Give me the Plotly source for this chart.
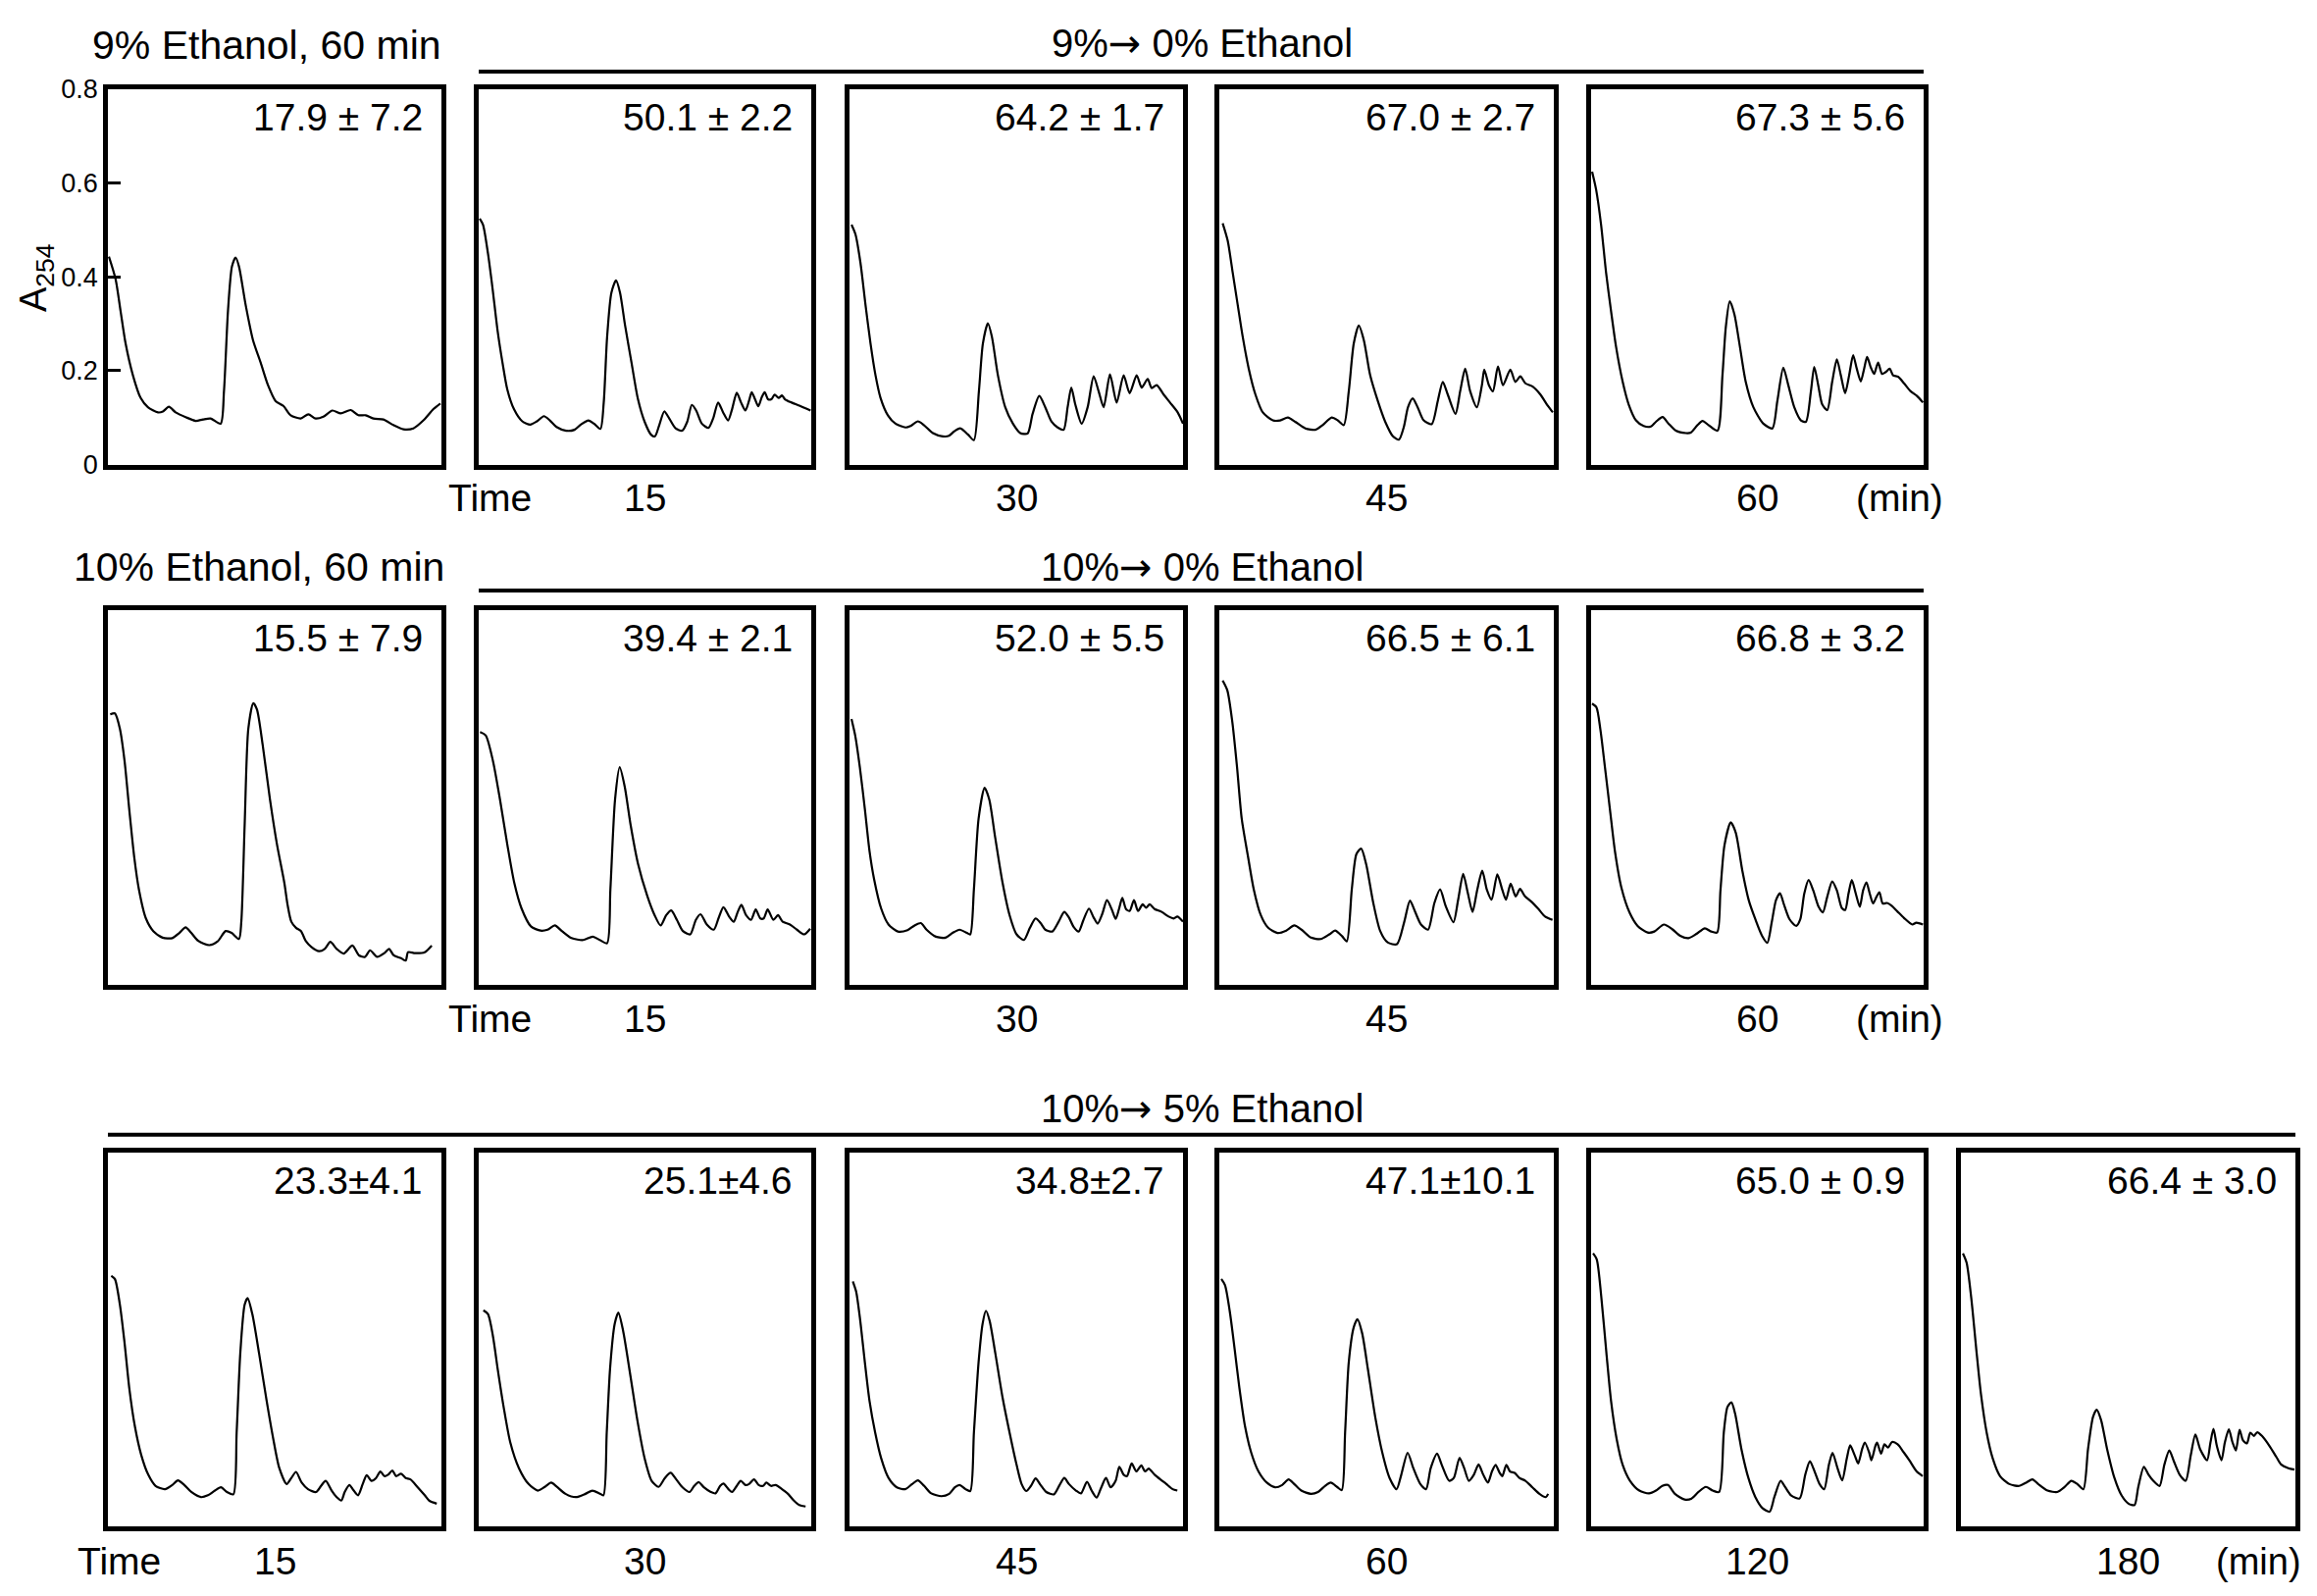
import plotly.graph_objects as go

# polysome profiles: position along the gradient (% of profile width) and A254
# --- 9% ethanol, 60 min ---
pos_e9_60min = [0.3, 2.3, 3.8, 5.3, 7.5, 9.8, 12.0, 15.0, 16.5, 18.3, 20.3, 23.3, 26.3, 28.5, 30.8,
                33.8, 34.8, 36.0, 37.2, 38.3, 39.3, 41.3, 43.5, 45.8, 48.0, 50.3, 52.6, 54.8, 57.8,
                60.1, 62.3, 64.6, 67.3, 69.8, 72.8, 75.1, 77.3, 79.6, 82.6, 85.6, 88.6, 91.6, 94.6,
                97.6, 99.7]
abs_e9_60min = [0.443, 0.395, 0.327, 0.258, 0.190, 0.142, 0.122, 0.111, 0.113, 0.123, 0.111, 0.101,
                0.093, 0.096, 0.098, 0.087, 0.156, 0.327, 0.422, 0.441, 0.422, 0.340, 0.265, 0.217,
                0.169, 0.135, 0.125, 0.105, 0.098, 0.107, 0.098, 0.102, 0.115, 0.109, 0.116, 0.105,
                0.105, 0.098, 0.096, 0.084, 0.075, 0.077, 0.094, 0.118, 0.130]

# --- 9% -> 0% ethanol ---
pos_e9to0_15 = [0.3, 1.3, 2.8, 4.2, 5.7, 7.2, 8.6, 10.6, 13.1, 15.5, 17.5, 19.6, 21.4, 23.4, 26.3,
                28.8, 30.7, 33.0, 34.7, 36.6, 37.6, 38.6, 39.9, 41.3, 42.5, 44.0, 46.0, 47.9, 49.9,
                51.9, 53.0, 54.3, 55.8, 57.3, 59.2, 61.2, 62.7, 64.1, 65.4, 67.1, 69.1, 70.5, 72.0,
                73.5, 75.0, 76.2, 77.6, 78.9, 80.2, 81.3, 82.1, 83.1, 84.1, 85.1, 86.0, 87.0, 88.0,
                89.0, 90.2, 91.2, 92.1, 94.1, 96.6, 99.8]
abs_e9to0_15 = [0.524, 0.511, 0.449, 0.373, 0.284, 0.215, 0.160, 0.118, 0.092, 0.085, 0.092, 0.103,
                0.094, 0.080, 0.072, 0.074, 0.085, 0.094, 0.087, 0.076, 0.132, 0.270, 0.366, 0.392,
                0.366, 0.297, 0.215, 0.139, 0.091, 0.063, 0.060, 0.084, 0.113, 0.098, 0.077, 0.072,
                0.091, 0.127, 0.115, 0.087, 0.078, 0.098, 0.132, 0.111, 0.094, 0.118, 0.153, 0.132,
                0.115, 0.136, 0.154, 0.139, 0.124, 0.143, 0.154, 0.139, 0.139, 0.149, 0.142, 0.147,
                0.139, 0.132, 0.125, 0.115]

pos_e9to0_30 = [0.6, 1.8, 3.3, 4.8, 6.3, 7.8, 9.3, 11.5, 13.8, 16.8, 18.3, 20.5, 22.3, 25.0, 28.0,
                29.8, 31.3, 33.2, 35.5, 37.3, 38.8, 40.0, 41.5, 42.7, 44.5, 46.7, 49.0, 51.2, 53.4,
                54.9, 56.9, 58.7, 60.6, 62.4, 64.2, 65.4, 66.5, 67.7, 69.6, 71.4, 73.2, 74.7, 76.2,
                78.1, 80.1, 82.2, 84.0, 86.1, 87.6, 89.4, 90.6, 92.1, 94.2, 96.1, 98.4, 100.0]
abs_e9to0_30 = [0.511, 0.490, 0.429, 0.340, 0.258, 0.190, 0.142, 0.105, 0.087, 0.079, 0.082, 0.092,
                0.084, 0.067, 0.060, 0.061, 0.070, 0.077, 0.064, 0.052, 0.156, 0.258, 0.301, 0.272,
                0.190, 0.122, 0.087, 0.067, 0.066, 0.108, 0.146, 0.122, 0.091, 0.079, 0.074, 0.122,
                0.164, 0.128, 0.087, 0.122, 0.188, 0.156, 0.122, 0.192, 0.132, 0.190, 0.152, 0.190,
                0.164, 0.182, 0.163, 0.169, 0.149, 0.132, 0.111, 0.087]

pos_e9to0_45 = [1.0, 2.5, 4.0, 5.5, 7.0, 8.8, 10.8, 13.0, 16.0, 18.2, 20.5, 22.7, 25.7, 28.7, 30.9,
                33.6, 35.4, 37.2, 38.7, 40.2, 41.7, 43.2, 45.1, 47.4, 49.6, 51.9, 53.7, 55.2, 56.4,
                57.8, 59.3, 61.1, 63.5, 65.3, 66.8, 68.3, 70.6, 72.0, 73.5, 75.0, 77.0, 78.5, 79.2,
                80.6, 81.8, 83.3, 84.8, 87.0, 88.5, 90.0, 91.5, 93.7, 96.0, 98.2, 99.7]
abs_e9to0_45 = [0.514, 0.477, 0.409, 0.340, 0.272, 0.204, 0.149, 0.111, 0.094, 0.094, 0.100, 0.091,
                0.077, 0.074, 0.084, 0.100, 0.094, 0.084, 0.156, 0.258, 0.296, 0.265, 0.190, 0.135,
                0.091, 0.060, 0.053, 0.081, 0.122, 0.141, 0.122, 0.094, 0.086, 0.135, 0.176, 0.149,
                0.108, 0.156, 0.204, 0.156, 0.122, 0.169, 0.202, 0.169, 0.156, 0.209, 0.169, 0.202,
                0.176, 0.188, 0.173, 0.166, 0.149, 0.125, 0.111]

pos_e9to0_60 = [0.3, 1.5, 3.0, 4.5, 6.0, 7.5, 9.5, 11.3, 13.5, 15.8, 18.0, 19.5, 21.5, 23.3, 25.5,
                28.5, 30.0, 32.0, 33.5, 35.3, 38.0, 39.5, 40.5, 41.7, 43.1, 44.6, 46.5, 48.8, 51.8,
                54.5, 56.0, 57.8, 59.3, 61.1, 63.1, 64.6, 66.1, 67.1, 68.3, 69.5, 71.0, 72.5, 73.9,
                75.1, 76.4, 77.6, 78.8, 79.9, 81.1, 82.1, 83.0, 84.1, 85.1, 86.3, 87.5, 88.6, 89.8,
                90.8, 92.3, 94.1, 96.1, 98.0, 99.8]
abs_e9to0_60 = [0.624, 0.586, 0.511, 0.409, 0.327, 0.251, 0.176, 0.128, 0.094, 0.082, 0.081, 0.091,
                0.101, 0.087, 0.072, 0.067, 0.068, 0.084, 0.093, 0.084, 0.072, 0.190, 0.292, 0.348,
                0.320, 0.258, 0.176, 0.122, 0.087, 0.077, 0.135, 0.206, 0.169, 0.122, 0.094, 0.091,
                0.156, 0.208, 0.169, 0.128, 0.116, 0.176, 0.224, 0.190, 0.152, 0.190, 0.233, 0.204,
                0.177, 0.204, 0.229, 0.207, 0.193, 0.217, 0.193, 0.197, 0.204, 0.190, 0.187, 0.173,
                0.156, 0.146, 0.132]

# --- 10% ethanol, 60 min ---
pos_e10_60min = [0.7, 2.1, 3.6, 5.0, 6.4, 7.9, 9.3, 11.4, 13.6, 16.4, 19.3, 21.4, 23.3, 25.0, 27.1,
                 30.4, 32.9, 35.3, 37.1, 39.3, 40.0, 41.0, 42.1, 43.6, 44.7, 46.4, 48.6, 50.7, 52.9,
                 53.9, 55.0, 56.4, 57.9, 59.3, 61.0, 63.3, 65.0, 66.7, 68.6, 70.7, 73.3, 75.3, 77.1,
                 78.6, 80.7, 82.9, 84.3, 85.7, 87.9, 89.3, 90.0, 92.1, 95.0, 97.1]
abs_e10_60min = [0.577, 0.579, 0.546, 0.477, 0.374, 0.272, 0.203, 0.141, 0.114, 0.100, 0.099, 0.110,
                 0.122, 0.110, 0.093, 0.084, 0.092, 0.114, 0.110, 0.097, 0.134, 0.340, 0.546, 0.601,
                 0.587, 0.512, 0.395, 0.299, 0.217, 0.169, 0.134, 0.121, 0.114, 0.093, 0.080, 0.071,
                 0.076, 0.091, 0.076, 0.066, 0.083, 0.062, 0.059, 0.073, 0.059, 0.067, 0.076, 0.062,
                 0.056, 0.051, 0.069, 0.067, 0.069, 0.083]

# --- 10% -> 0% ethanol ---
pos_e10to0_15 = [0.4, 2.1, 4.3, 6.4, 8.6, 10.7, 12.9, 15.7, 18.6, 20.7, 22.9, 25.0, 27.9, 31.4, 34.3,
                 36.4, 38.6, 39.6, 41.0, 42.4, 43.9, 45.7, 47.9, 50.7, 52.9, 54.7, 56.4, 57.9, 59.6,
                 61.4, 63.6, 65.3, 66.7, 68.6, 70.7, 72.1, 73.6, 75.3, 76.7, 77.9, 79.0, 80.4, 81.9,
                 83.3, 84.7, 85.7, 86.9, 88.6, 90.0, 91.4, 93.6, 95.7, 97.9, 99.7]
abs_e10to0_15 = [0.539, 0.532, 0.477, 0.395, 0.299, 0.217, 0.162, 0.124, 0.115, 0.117, 0.126, 0.114,
                 0.099, 0.095, 0.102, 0.095, 0.088, 0.203, 0.395, 0.464, 0.423, 0.340, 0.258, 0.189,
                 0.148, 0.126, 0.148, 0.158, 0.138, 0.114, 0.107, 0.138, 0.150, 0.128, 0.117, 0.141,
                 0.165, 0.145, 0.134, 0.155, 0.170, 0.148, 0.138, 0.160, 0.141, 0.141, 0.160, 0.138,
                 0.148, 0.134, 0.128, 0.117, 0.107, 0.119]

pos_e10to0_30 = [0.6, 1.7, 3.1, 4.6, 6.0, 7.4, 9.5, 11.7, 14.5, 17.4, 19.5, 21.4, 23.1, 25.9, 28.8,
                 30.9, 33.0, 35.2, 36.2, 37.3, 38.7, 40.5, 41.9, 43.7, 45.9, 48.0, 50.1, 52.3, 54.1,
                 55.8, 57.3, 58.7, 60.8, 62.7, 64.4, 65.8, 67.2, 68.7, 70.1, 71.8, 73.2, 74.4, 75.8,
                 77.2, 78.6, 79.8, 80.8, 81.8, 82.9, 84.0, 85.3, 86.5, 87.9, 88.9, 90.0, 91.5, 93.6,
                 95.7, 97.2, 98.3, 100.0]
abs_e10to0_30 = [0.567, 0.532, 0.464, 0.375, 0.285, 0.224, 0.162, 0.128, 0.113, 0.116, 0.126, 0.131,
                 0.117, 0.102, 0.100, 0.110, 0.117, 0.110, 0.107, 0.203, 0.354, 0.420, 0.395, 0.313,
                 0.217, 0.148, 0.107, 0.095, 0.121, 0.141, 0.131, 0.117, 0.113, 0.134, 0.155, 0.143,
                 0.123, 0.113, 0.137, 0.162, 0.143, 0.130, 0.151, 0.180, 0.161, 0.140, 0.161, 0.185,
                 0.161, 0.157, 0.180, 0.157, 0.171, 0.164, 0.171, 0.161, 0.155, 0.145, 0.141, 0.145,
                 0.134]

pos_e10to0_45 = [1.0, 2.4, 3.9, 5.3, 6.7, 8.6, 10.3, 12.4, 14.6, 17.4, 20.0, 22.4, 24.6, 27.4, 30.3,
                 32.9, 34.6, 36.7, 38.1, 39.6, 41.0, 42.4, 43.9, 46.0, 48.1, 50.3, 53.1, 55.3, 57.0,
                 58.6, 60.3, 62.4, 64.3, 66.0, 67.7, 70.0, 71.4, 72.9, 74.3, 75.7, 77.1, 78.6, 80.0,
                 81.4, 83.1, 84.6, 85.7, 87.1, 88.6, 89.9, 91.4, 93.1, 95.3, 97.4, 99.6]
abs_e10to0_45 = [0.649, 0.628, 0.560, 0.464, 0.354, 0.272, 0.203, 0.148, 0.121, 0.110, 0.115, 0.126,
                 0.117, 0.100, 0.097, 0.107, 0.115, 0.103, 0.092, 0.203, 0.279, 0.290, 0.257, 0.175,
                 0.114, 0.090, 0.086, 0.134, 0.179, 0.154, 0.128, 0.117, 0.174, 0.203, 0.167, 0.133,
                 0.181, 0.236, 0.195, 0.155, 0.202, 0.243, 0.202, 0.181, 0.235, 0.202, 0.181, 0.215,
                 0.188, 0.204, 0.188, 0.178, 0.162, 0.145, 0.138]

pos_e10to0_60 = [0.3, 1.6, 2.8, 4.2, 5.7, 7.2, 9.1, 11.6, 14.0, 17.0, 19.0, 21.9, 24.4, 26.8, 29.3,
                 31.7, 34.2, 36.1, 37.9, 38.9, 40.1, 42.0, 43.5, 45.5, 47.4, 49.4, 51.4, 53.0, 54.3,
                 55.6, 56.8, 57.9, 59.7, 61.7, 62.9, 64.1, 65.4, 66.8, 68.4, 69.7, 71.0, 72.5, 73.9,
                 75.4, 76.4, 77.4, 78.4, 79.6, 80.8, 81.8, 82.8, 83.8, 84.8, 85.8, 86.7, 87.7, 89.0,
                 90.4, 92.1, 94.1, 96.6, 97.8, 99.8]
abs_e10to0_60 = [0.600, 0.592, 0.544, 0.462, 0.372, 0.283, 0.207, 0.153, 0.125, 0.111, 0.113, 0.128,
                 0.118, 0.104, 0.099, 0.108, 0.120, 0.113, 0.111, 0.201, 0.297, 0.346, 0.324, 0.242,
                 0.180, 0.139, 0.104, 0.089, 0.132, 0.180, 0.195, 0.173, 0.139, 0.125, 0.139, 0.194,
                 0.223, 0.201, 0.166, 0.154, 0.187, 0.220, 0.201, 0.163, 0.159, 0.194, 0.223, 0.194,
                 0.166, 0.201, 0.218, 0.194, 0.173, 0.187, 0.197, 0.173, 0.174, 0.168, 0.156, 0.142,
                 0.128, 0.132, 0.128]

# --- 10% -> 5% ethanol ---
pos_e10to5_15 = [1.0, 2.1, 3.6, 5.0, 6.4, 8.1, 10.0, 12.1, 14.3, 17.1, 19.3, 21.0, 22.9, 25.0, 27.9,
                 30.0, 32.1, 33.9, 35.7, 37.6, 38.6, 39.7, 41.0, 41.9, 43.3, 45.3, 47.6, 49.6, 51.4,
                 53.6, 55.0, 56.4, 58.1, 60.0, 62.4, 63.9, 65.3, 67.1, 68.6, 70.0, 71.0, 72.4, 73.6,
                 75.0, 76.4, 77.6, 79.0, 80.4, 81.7, 82.9, 84.0, 85.3, 86.4, 87.9, 89.3, 90.7, 92.9,
                 95.0, 96.4, 98.6]
abs_e10to5_15 = [0.537, 0.530, 0.475, 0.393, 0.297, 0.214, 0.153, 0.111, 0.087, 0.080, 0.089, 0.099,
                 0.089, 0.074, 0.063, 0.067, 0.077, 0.084, 0.074, 0.069, 0.201, 0.372, 0.475, 0.489,
                 0.455, 0.372, 0.269, 0.187, 0.125, 0.091, 0.104, 0.117, 0.094, 0.080, 0.074, 0.087,
                 0.098, 0.077, 0.063, 0.056, 0.074, 0.089, 0.078, 0.067, 0.091, 0.110, 0.098, 0.104,
                 0.118, 0.108, 0.111, 0.120, 0.108, 0.113, 0.104, 0.101, 0.084, 0.067, 0.055, 0.049]

pos_e10to5_30 = [1.4, 2.8, 4.3, 5.7, 7.5, 9.5, 12.1, 15.0, 17.8, 19.9, 21.8, 23.5, 26.1, 29.2, 32.1,
                 34.2, 36.3, 37.5, 38.5, 39.5, 40.9, 42.0, 43.4, 45.6, 47.7, 49.9, 52.0, 54.1, 56.0,
                 57.7, 59.4, 61.3, 63.4, 64.8, 66.2, 67.7, 69.8, 71.2, 72.6, 73.6, 75.1, 76.2, 77.6,
                 78.8, 80.2, 81.3, 82.8, 84.2, 85.5, 86.5, 87.9, 89.3, 91.2, 93.0, 94.7, 96.4, 98.3]
abs_e10to5_30 = [0.463, 0.455, 0.407, 0.338, 0.256, 0.180, 0.125, 0.091, 0.077, 0.085, 0.094, 0.085,
                 0.070, 0.063, 0.070, 0.077, 0.071, 0.067, 0.201, 0.338, 0.434, 0.458, 0.420, 0.324,
                 0.228, 0.146, 0.098, 0.085, 0.104, 0.115, 0.101, 0.084, 0.074, 0.087, 0.095, 0.084,
                 0.074, 0.071, 0.087, 0.092, 0.080, 0.074, 0.087, 0.098, 0.089, 0.091, 0.101, 0.089,
                 0.087, 0.094, 0.087, 0.089, 0.080, 0.070, 0.056, 0.046, 0.043]

pos_e10to5_45 = [1.0, 2.0, 3.1, 4.6, 6.0, 7.7, 9.5, 11.7, 14.2, 16.7, 18.8, 20.5, 22.4, 24.5, 27.6,
                 29.9, 31.6, 33.0, 34.8, 36.2, 37.3, 38.7, 39.9, 40.9, 42.0, 43.7, 45.9, 48.0, 50.1,
                 51.6, 53.0, 54.4, 55.8, 57.3, 59.0, 61.3, 63.0, 64.4, 65.8, 67.9, 69.4, 71.2, 72.6,
                 74.1, 75.5, 76.9, 78.3, 79.8, 80.9, 82.2, 83.2, 84.6, 86.0, 87.5, 88.6, 89.7, 91.5,
                 93.2, 95.0, 96.9, 98.3]
abs_e10to5_45 = [0.525, 0.503, 0.448, 0.352, 0.269, 0.201, 0.146, 0.104, 0.084, 0.080, 0.091, 0.099,
                 0.087, 0.071, 0.065, 0.070, 0.084, 0.089, 0.080, 0.076, 0.201, 0.352, 0.434, 0.462,
                 0.441, 0.372, 0.276, 0.201, 0.132, 0.091, 0.076, 0.087, 0.103, 0.089, 0.074, 0.069,
                 0.089, 0.104, 0.091, 0.077, 0.071, 0.096, 0.077, 0.062, 0.084, 0.104, 0.084, 0.098,
                 0.128, 0.111, 0.108, 0.135, 0.118, 0.131, 0.118, 0.124, 0.111, 0.101, 0.091, 0.080,
                 0.077]

pos_e10to5_60 = [0.6, 1.7, 3.1, 4.6, 6.0, 7.7, 9.5, 11.7, 14.2, 16.7, 18.8, 20.7, 22.4, 24.5, 27.4,
                 29.5, 31.6, 33.3, 35.2, 36.6, 37.6, 38.7, 40.2, 41.3, 42.7, 44.4, 46.6, 48.7, 50.9,
                 53.0, 54.4, 56.3, 58.0, 60.1, 61.8, 63.2, 65.1, 66.5, 68.7, 70.1, 71.8, 73.2, 74.6,
                 76.1, 77.5, 78.9, 80.3, 81.5, 82.6, 83.8, 84.6, 85.8, 86.9, 88.3, 89.7, 91.5, 93.6,
                 95.7, 97.6, 98.3]
abs_e10to5_60 = [0.530, 0.517, 0.462, 0.379, 0.297, 0.214, 0.159, 0.118, 0.094, 0.084, 0.089, 0.101,
                 0.091, 0.077, 0.070, 0.074, 0.087, 0.094, 0.085, 0.078, 0.201, 0.352, 0.427, 0.444,
                 0.414, 0.338, 0.235, 0.159, 0.104, 0.080, 0.111, 0.158, 0.125, 0.091, 0.080, 0.125,
                 0.156, 0.132, 0.098, 0.104, 0.147, 0.125, 0.098, 0.111, 0.133, 0.111, 0.094, 0.118,
                 0.132, 0.115, 0.108, 0.132, 0.118, 0.115, 0.104, 0.098, 0.084, 0.070, 0.063, 0.070]

pos_e10to5_120 = [0.6, 1.7, 3.1, 4.6, 6.0, 7.7, 9.5, 11.7, 14.5, 17.4, 19.5, 21.4, 23.1, 25.2, 28.1,
                  30.2, 32.3, 34.5, 36.6, 38.5, 39.9, 41.0, 42.2, 43.3, 45.2, 47.3, 49.4, 51.6, 53.7,
                  55.1, 57.0, 58.4, 60.1, 62.7, 64.4, 65.8, 67.2, 68.7, 70.1, 71.5, 72.6, 74.1, 75.5,
                  76.9, 77.9, 79.3, 80.3, 81.5, 82.3, 83.6, 84.3, 85.5, 86.0, 87.2, 88.2, 89.3, 90.5,
                  92.2, 94.0, 95.7, 97.9, 99.7]
abs_e10to5_120 = [0.585, 0.572, 0.489, 0.372, 0.269, 0.187, 0.132, 0.098, 0.077, 0.071, 0.077, 0.087,
                  0.089, 0.070, 0.058, 0.060, 0.074, 0.085, 0.077, 0.074, 0.201, 0.256, 0.266, 0.242,
                  0.166, 0.104, 0.063, 0.039, 0.032, 0.063, 0.098, 0.084, 0.067, 0.060, 0.111, 0.140,
                  0.118, 0.091, 0.080, 0.132, 0.158, 0.125, 0.099, 0.146, 0.174, 0.152, 0.135, 0.166,
                  0.180, 0.159, 0.142, 0.173, 0.180, 0.156, 0.176, 0.169, 0.181, 0.176, 0.159, 0.142,
                  0.118, 0.108]

pos_e10to5_180 = [0.6, 1.7, 3.1, 4.6, 6.0, 7.7, 9.5, 11.7, 14.5, 17.4, 19.5, 21.4, 23.1, 25.9, 28.8,
                  30.9, 33.0, 34.8, 36.6, 38.0, 39.5, 40.6, 41.9, 43.7, 45.9, 48.0, 50.1, 51.9, 53.0,
                  54.7, 56.1, 57.5, 59.4, 60.8, 62.3, 63.7, 65.4, 67.2, 68.7, 70.1, 71.5, 73.6, 74.6,
                  75.5, 76.5, 77.9, 78.9, 80.1, 81.2, 82.2, 83.3, 84.3, 85.5, 86.5, 87.6, 88.6, 90.0,
                  92.2, 94.3, 95.7, 97.9, 99.7]
abs_e10to5_180 = [0.585, 0.565, 0.489, 0.379, 0.283, 0.201, 0.146, 0.108, 0.091, 0.087, 0.094, 0.101,
                  0.091, 0.077, 0.074, 0.084, 0.098, 0.091, 0.080, 0.166, 0.235, 0.250, 0.228, 0.166,
                  0.104, 0.067, 0.049, 0.046, 0.084, 0.128, 0.111, 0.098, 0.087, 0.132, 0.163, 0.139,
                  0.111, 0.098, 0.152, 0.197, 0.166, 0.142, 0.180, 0.209, 0.173, 0.142, 0.180, 0.208,
                  0.180, 0.163, 0.207, 0.185, 0.178, 0.201, 0.194, 0.202, 0.194, 0.173, 0.149, 0.133,
                  0.125, 0.122]

# percentage values printed in each panel
pct_row1 = ["17.9 ± 7.2", "50.1 ± 2.2", "64.2 ± 1.7", "67.0 ± 2.7", "67.3 ± 5.6"]
pct_row2 = ["15.5 ± 7.9", "39.4 ± 2.1", "52.0 ± 5.5", "66.5 ± 6.1", "66.8 ± 3.2"]
pct_row3 = ["23.3±4.1", "25.1±4.6", "34.8±2.7", "47.1±10.1", "65.0 ± 0.9", "66.4 ± 3.0"]

times_row12 = ["15", "30", "45", "60"]
times_row3 = ["15", "30", "45", "60", "120", "180"]

y_ticks = [0, 0.2, 0.4, 0.6, 0.8]
y_ticktext = ["0", "0.2", "0.4", "0.6", "0.8"]

# ---------------- layout geometry (pixels) ----------------
W, H = 2362, 1627
cols = [(102, 442), (480, 819), (858, 1198), (1235, 1576), (1614, 1953), (1991, 2332)]
rows = [(69, 459), (610, 999), (1174, 1562)]
FONT = "Liberation Sans, Arial, Helvetica, sans-serif"
ARROW = "<span style=\"font-family:'DejaVu Sans'\">\u2192</span>"


def fx(p):
    return p / W


def fy(p):
    return 1 - p / H


panels = [
    (0, 0, pos_e9_60min, abs_e9_60min, pct_row1[0]),
    (0, 1, pos_e9to0_15, abs_e9to0_15, pct_row1[1]),
    (0, 2, pos_e9to0_30, abs_e9to0_30, pct_row1[2]),
    (0, 3, pos_e9to0_45, abs_e9to0_45, pct_row1[3]),
    (0, 4, pos_e9to0_60, abs_e9to0_60, pct_row1[4]),
    (1, 0, pos_e10_60min, abs_e10_60min, pct_row2[0]),
    (1, 1, pos_e10to0_15, abs_e10to0_15, pct_row2[1]),
    (1, 2, pos_e10to0_30, abs_e10to0_30, pct_row2[2]),
    (1, 3, pos_e10to0_45, abs_e10to0_45, pct_row2[3]),
    (1, 4, pos_e10to0_60, abs_e10to0_60, pct_row2[4]),
    (2, 0, pos_e10to5_15, abs_e10to5_15, pct_row3[0]),
    (2, 1, pos_e10to5_30, abs_e10to5_30, pct_row3[1]),
    (2, 2, pos_e10to5_45, abs_e10to5_45, pct_row3[2]),
    (2, 3, pos_e10to5_60, abs_e10to5_60, pct_row3[3]),
    (2, 4, pos_e10to5_120, abs_e10to5_120, pct_row3[4]),
    (2, 5, pos_e10to5_180, abs_e10to5_180, pct_row3[5]),
]

fig = go.Figure()
layout = {}
annotations = []

for i, (r, c, xs, ys, label) in enumerate(panels):
    sfx = "" if i == 0 else str(i + 1)
    x0, x1 = cols[c]
    y0, y1 = rows[r]
    fig.add_trace(go.Scatter(
        x=xs, y=ys, mode="lines",
        line=dict(color="black", width=2.2, shape="spline", smoothing=0.7),
        xaxis="x" + sfx, yaxis="y" + sfx,
        showlegend=False, hoverinfo="skip"))
    layout["xaxis" + sfx] = dict(
        domain=[fx(x0), fx(x1)], range=[0, 100], anchor="y" + sfx,
        showline=True, mirror=True, linecolor="black", linewidth=4.5,
        showgrid=False, zeroline=False, showticklabels=False, ticks="")
    yax = dict(
        domain=[fy(y1), fy(y0)], range=[0, 0.8], anchor="x" + sfx,
        showline=True, mirror=True, linecolor="black", linewidth=4.5,
        showgrid=False, zeroline=False, showticklabels=False, ticks="")
    if i == 0:
        yax.update(showticklabels=True, ticks="inside", ticklen=13, tickwidth=3,
                   tickcolor="black", tickvals=y_ticks, ticktext=y_ticktext,
                   tickfont=dict(family=FONT, size=27, color="black"))
    layout["yaxis" + sfx] = yax
    annotations.append(dict(
        text=label, xref="x" + sfx + " domain", yref="y" + sfx + " domain",
        x=0.95, y=0.926, xanchor="right", yanchor="middle", showarrow=False,
        font=dict(family=FONT, size=39, color="black")))


def label(text, x, y, anchor="center", size=39):
    annotations.append(dict(
        text=text, xref="paper", yref="paper", x=fx(x), y=fy(y),
        xanchor=anchor, yanchor="middle", showarrow=False,
        font=dict(family=FONT, size=size, color="black")))


# row headers
label("9% Ethanol, 60 min", 444, 23, anchor="right", size=41)
label("9%" + ARROW + " 0% Ethanol", 1217, 21, size=40)
label("10% Ethanol, 60 min", 447, 565, anchor="right", size=41)
label("10%" + ARROW + " 0% Ethanol", 1217, 565, size=40)
label("10%" + ARROW + " 5% Ethanol", 1217, 1128, size=40)

# time labels under the panels
for ty in (494, 1035):
    label("Time", 447, ty, anchor="left")
    for k, t in enumerate(times_row12):
        label(t, (cols[k + 1][0] + cols[k + 1][1]) / 2, ty)
    label("(min)", 1928, ty)
label("Time", 69, 1598, anchor="left")
for k, t in enumerate(times_row3):
    label(t, (cols[k][0] + cols[k][1]) / 2, 1598)
label("(min)", 2340, 1598, anchor="right", size=38)

# y axis title
annotations.append(dict(
    text="A<sub>254</sub>", xref="paper", yref="paper", x=fx(29), y=fy(265),
    xanchor="center", yanchor="middle", textangle=-90, showarrow=False,
    font=dict(family=FONT, size=38, color="black")))

# bracket lines above the time-course groups
shapes = [
    dict(type="line", xref="paper", yref="paper", x0=fx(480), x1=fx(1953), y0=fy(51), y1=fy(51),
         line=dict(color="black", width=4)),
    dict(type="line", xref="paper", yref="paper", x0=fx(480), x1=fx(1953), y0=fy(590), y1=fy(590),
         line=dict(color="black", width=4)),
    dict(type="line", xref="paper", yref="paper", x0=fx(102), x1=fx(2332), y0=fy(1155), y1=fy(1155),
         line=dict(color="black", width=4)),
]

fig.update_layout(**layout)
fig.update_layout(
    width=W, height=H,
    margin=dict(l=0, r=0, t=0, b=0),
    paper_bgcolor="white", plot_bgcolor="white",
    font=dict(family=FONT, color="black"),
    annotations=annotations, shapes=shapes,
    showlegend=False)

fig.write_html("out.html")
